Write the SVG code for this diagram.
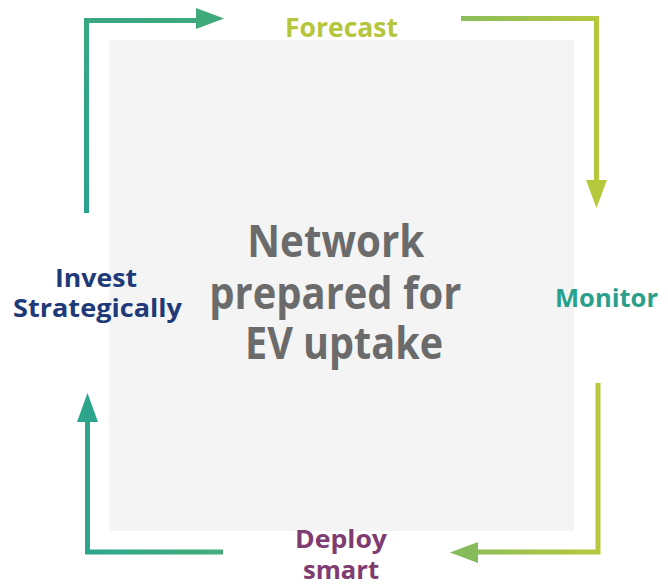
<svg xmlns="http://www.w3.org/2000/svg" width="668" height="587" viewBox="0 0 668 587">
<defs>
<style>
.lbl{font-family:"Open Sans","Noto Sans","Liberation Sans",sans-serif;font-weight:700;}
.conn{fill:none;stroke-width:5;stroke-linejoin:miter;stroke-linecap:butt;}
</style>
<linearGradient id="gTL" gradientUnits="userSpaceOnUse" x1="86" y1="213" x2="224" y2="18">
<stop offset="0" stop-color="#2aa38f"/><stop offset="1" stop-color="#40a97c"/>
</linearGradient>
<linearGradient id="gTR" gradientUnits="userSpaceOnUse" x1="461" y1="18" x2="598" y2="18">
<stop offset="0" stop-color="#8abd5b"/><stop offset="1" stop-color="#b6c83c"/>
</linearGradient>
<linearGradient id="gBR" gradientUnits="userSpaceOnUse" x1="598" y1="552" x2="450" y2="552">
<stop offset="0" stop-color="#b8c83c"/><stop offset="1" stop-color="#86bb5c"/>
</linearGradient>
<linearGradient id="gBL" gradientUnits="userSpaceOnUse" x1="224" y1="552" x2="87" y2="552">
<stop offset="0" stop-color="#45ad79"/><stop offset="1" stop-color="#2da58d"/>
</linearGradient>
</defs>
<rect width="668" height="587" fill="#ffffff"/>
<g id="center">
<rect x="109" y="40" width="465" height="491" fill="#f4f4f4"/>
<text class="lbl" fill="#6b6b6b" font-size="44" text-anchor="middle">
<tspan x="341.5" y="257" textLength="177" lengthAdjust="spacingAndGlyphs">Network</tspan>
<tspan x="341" y="309" textLength="252" lengthAdjust="spacingAndGlyphs">prepared for</tspan>
<tspan x="344" y="359" textLength="198" lengthAdjust="spacingAndGlyphs">EV uptake</tspan>
</text>
</g>
<g id="connectors">
<path class="conn" stroke="url(#gTL)" d="M86.5,213 V20.5 H198"/>
<polygon fill="#40a97c" points="196,8 224,18.5 196,29"/>
<path class="conn" stroke="url(#gTR)" d="M461,18.5 H596.5 V182"/>
<polygon fill="#b6c83c" points="586,180 607,180 596.5,208"/>
<path class="conn" stroke="url(#gBR)" d="M598,383 V552 H476"/>
<polygon fill="#86bb5c" points="478,542 478,563 450,552.5"/>
<path class="conn" stroke="url(#gBL)" d="M223,552 H87.5 V420"/>
<polygon fill="#2da58d" points="77,422 98,422 87.5,393"/>
</g>
<g id="forecast">
<text class="lbl" fill="#b5c63c" font-size="26" x="285" y="37" textLength="113" lengthAdjust="spacingAndGlyphs">Forecast</text>
</g>
<g id="monitor">
<text class="lbl" fill="#2aa08a" font-size="25" x="555" y="307" textLength="103" lengthAdjust="spacingAndGlyphs">Monitor</text>
</g>
<g id="deploy">
<text class="lbl" fill="#7e3c72" font-size="25">
<tspan x="295" y="548" textLength="92" lengthAdjust="spacingAndGlyphs">Deploy</tspan>
<tspan x="303" y="579" textLength="76" lengthAdjust="spacingAndGlyphs">smart</tspan>
</text>
</g>
<g id="invest">
<text class="lbl" fill="#1f3a78" font-size="25">
<tspan x="55" y="287" textLength="82" lengthAdjust="spacingAndGlyphs">Invest</tspan>
<tspan x="13" y="317" textLength="169" lengthAdjust="spacingAndGlyphs">Strategically</tspan>
</text>
</g>
</svg>
